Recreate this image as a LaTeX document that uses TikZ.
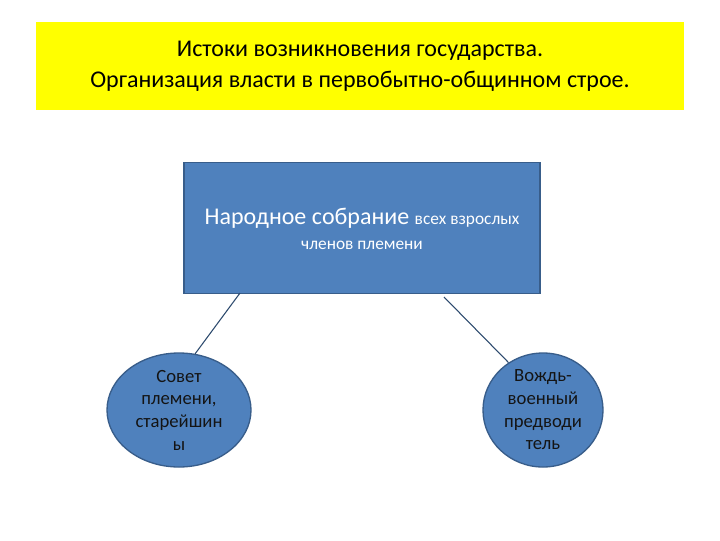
\documentclass[tikz,border=0pt]{standalone}
\usepackage{fontspec}
\setmainfont{Carlito}
\usetikzlibrary{shapes.geometric}
\definecolor{ybg}{RGB}{255,255,0}
\definecolor{bfill}{RGB}{79,129,189}
\definecolor{bdraw}{RGB}{56,93,138}
\definecolor{dtext}{RGB}{20,20,20}
\tikzset{
  boxstyle/.style={draw=bdraw, line width=1pt, fill=bfill, inner sep=0pt},
  ellstyle/.style={ellipse, draw=bdraw, line width=1pt, fill=bfill, inner sep=0pt, align=center, text=dtext, font=\fontsize{14}{17}\selectfont},
  linkstyle/.style={draw=bdraw!80!black, line width=0.8pt}
}
\begin{document}
\begin{tikzpicture}[x=0.75pt,y=-0.75pt]
\useasboundingbox (0,0) rectangle (720,540);
\fill[white] (0,0) rectangle (720,540);
\node[fill=ybg, minimum width=648*0.75pt, minimum height=88*0.75pt, inner sep=0pt, align=center, font=\fontsize{18}{23}\selectfont] (title) at (360,66) {Истоки возникновения государства.\\Организация власти в первобытно-общинном строе.};
\node[boxstyle, minimum width=356*0.75pt, minimum height=131*0.75pt] (main) at (362,228) {};
\node[text=white, align=center, font=\fontsize{18}{19}\selectfont] (maintxt) at (362,229) {Народное собрание {\fontsize{13}{15}\selectfont всех взрослых}\\{\fontsize{13}{15}\selectfont членов племени}};
\node[ellstyle, minimum width=144*0.75pt, minimum height=114*0.75pt] (left) at (179,410) {Совет\\племени,\\старейшин\\ы};
\node[ellstyle, minimum width=120*0.75pt, minimum height=114*0.75pt] (right) at (543,410) {Вождь-\\военный\\предводи\\тель};
\coordinate (la) at (240,293);
\coordinate (ra) at (444,297);
\draw[linkstyle] (la) -- (left.74);
\draw[linkstyle] (ra) -- (right.126);
\end{tikzpicture}
\end{document}
